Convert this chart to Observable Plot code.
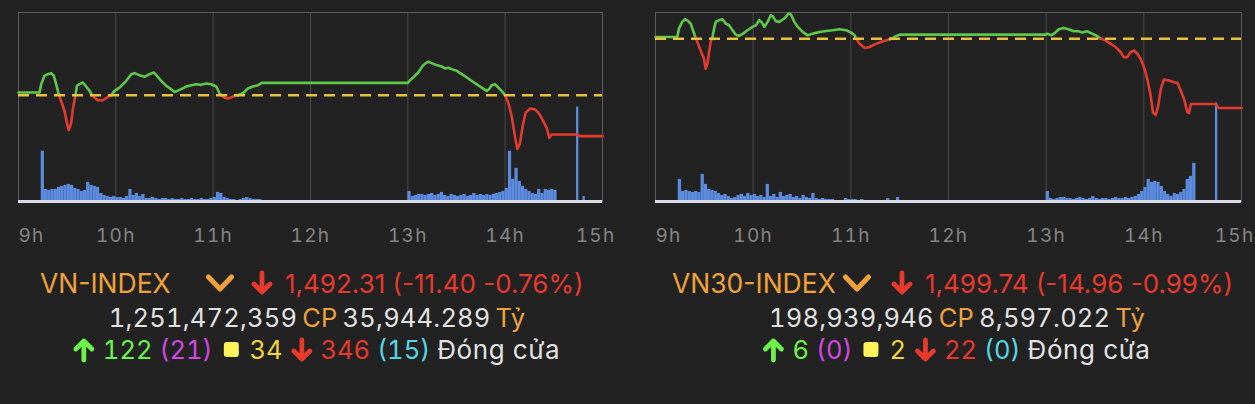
<!DOCTYPE html>
<html>
<head>
<meta charset="utf-8">
<script src="https://cdn.jsdelivr.net/npm/d3@7"></script>
<script src="https://cdn.jsdelivr.net/npm/@observablehq/plot@0.6"></script>
<style>
  html, body { margin: 0; padding: 0; background: #222222; }
  #root { position: relative; width: 1255px; height: 404px; background: #222222; overflow: hidden;
          font-family: "Inter", "Liberation Sans", sans-serif; }
  .panel { position: absolute; top: 0; height: 260px; }
  .layer { position: absolute; left: 0; top: 0; }
  .line { position: absolute; white-space: nowrap; display: flex; align-items: center; }
  .tnum { font-variant-numeric: tabular-nums; }
  .center { transform: translateX(-50%); }
  .sq { display: inline-block; width: 15px; height: 15px; border-radius: 3px; background: #fbf35a; }
</style>
</head>
<body>
<div id="root"></div>
<script>
// ---------------- data ----------------
const hourTicks = [0, 60, 120, 180, 240, 300, 360];          // minutes after 9:00
const hourLabels = ["9h", "10h", "11h", "12h", "13h", "14h", "15h"];

// VN-INDEX intraday
const vnName = "VN-INDEX";
const vnRef = 1503.71;
const vnClose = "1,492.31 (-11.40 -0.76%)";
const vnVolumeText = "1,251,472,359";
const vnValueText = "35,944.289";
const vnBreadth = {up: "122", ceil: "(21)", flat: "34", down: "346", floor: "(15)"};
const vnTime = [0, 13, 14, 16, 18.1, 20.1, 21.8, 23.2, 24.9, 26.3, 28.4, 29.8, 31, 32.5, 33.5, 35.1, 36, 37.6, 39.7, 41.7,
  43.8, 45.4, 46.9, 48.9, 52, 54.5, 57.1, 59.2, 62.3, 66.4, 69.5, 71.5, 74.6, 77.7, 80.8, 83.4, 84.9, 88, 91.1, 94.1,
  96.2, 99.3, 103.4, 106.5, 109.6, 112.6, 115.7, 118.8, 121.9, 123.9, 125, 127, 129.1, 132.2, 135.2, 138.3, 141.4,
  144.5, 147.6, 150, 240, 241, 243.3, 246.4, 248.9, 251, 252.6, 254.7, 257.7, 260.8, 262.9, 264.9, 267, 270.1, 273.2,
  277.3, 281.4, 285.5, 288.6, 290, 291.7, 293.7, 295.8, 297.8, 299.9, 301.9, 304, 306, 307.5, 309.1, 310.8, 312.6,
  315.3, 318.4, 320.8, 322.9, 325.6, 327.2, 328.6, 344, 346, 360];
const vnPrice = [1504.45, 1504.45, 1506.78, 1509.12, 1509.58, 1509.86, 1509.12, 1506.78, 1503.71, 1502.11, 1499.31,
  1496.04, 1493.99, 1496.04, 1499.78, 1503.71, 1506.32, 1506.78, 1507.25, 1506.13, 1504.91, 1503.71, 1503.05, 1502.30,
  1502.30, 1503.05, 1503.71, 1504.91, 1505.85, 1507.72, 1509.58, 1509.86, 1509.30, 1508.84, 1509.58, 1510.05, 1509.30,
  1507.72, 1506.32, 1505.38, 1504.63, 1505.19, 1506.13, 1506.50, 1506.78, 1506.60, 1506.97, 1506.78, 1506.13, 1504.26,
  1503.71, 1503.05, 1502.77, 1503.33, 1503.71, 1504.26, 1505.57, 1506.13, 1506.50, 1507.15, 1507.15, 1507.72, 1508.65,
  1510.05, 1511.73, 1512.66, 1513.04, 1512.66, 1512.10, 1511.73, 1511.17, 1511.36, 1510.98, 1510.52, 1509.58, 1508.37,
  1507.06, 1505.85, 1504.91, 1505.38, 1506.50, 1506.78, 1505.85, 1504.91, 1503.71, 1501.65, 1497.91, 1492.31, 1488.76,
  1490.26, 1495.11, 1498.85, 1499.97, 1499.78, 1498.66, 1496.98, 1494.64, 1491.84, 1492.78, 1492.78, 1492.31, 1492.31];
// volume per 2-minute bin (million shares)
const vnVolMorning = [50, 12, 11, 12, 12, 14, 15, 16, 17, 16, 13, 12, 10, 11, 19, 16, 15, 14, 8, 6, 5, 4, 5, 4, 4, 3, 5,
  12, 6, 8, 5, 7, 3, 3, 4, 3, 2, 3, 3, 2, 3, 2, 2, 3, 2, 2, 3, 2, 2, 3, 2, 2, 3, 4, 9, 8, 4, 3, 2, 2, 1, 2, 3, 4, 3, 2,
  2, 2, 1];
const vnVolAfternoon = [10, 5, 6, 7, 7, 6, 7, 8, 6, 7, 9, 6, 5, 7, 6, 5, 6, 7, 5, 6, 8, 6, 7, 6, 7, 6, 7, 8, 9, 10, 13,
  50, 22, 33, 20, 15, 12, 10, 8, 7, 12, 8, 12, 11, 12, 11];
const vnVolClose = [94, 5];

// VN30-INDEX intraday
const vn30Name = "VN30-INDEX";
const vn30Ref = 1514.70;
const vn30Close = "1,499.74 (-14.96 -0.99%)";
const vn30VolumeText = "198,939,946";
const vn30ValueText = "8,597.022";
const vn30Breadth = {up: "6", ceil: "(0)", flat: "2", down: "22", floor: "(0)"};
const vn30Time = [0, 13.4, 14.4, 16.4, 18.1, 20.1, 21.6, 23, 24.7, 25.7, 27.7, 29.8, 30.8, 31.9, 32.9, 33.9, 34.9, 36, 37,
  39.1, 41.1, 43.2, 45.2, 47.3, 49.3, 51.4, 53.8, 56.5, 59.6, 61.7, 63.7, 65.4, 66.8, 68.9, 70.9, 72.3, 74, 76, 79.1,
  81.8, 83.2, 85.3, 87.4, 90.4, 93.5, 96.6, 100.7, 104.8, 108.9, 113, 117.2, 120.2, 122.3, 123.3, 125.4, 128.5, 131.5,
  135.6, 139.8, 143.9, 145.9, 148, 150, 240, 240.5, 243.1, 245.6, 247.7, 250.8, 253.8, 256.9, 260, 262.1, 265.1, 268.2,
  271.3, 273.4, 276.4, 279.5, 282.6, 285.7, 287.7, 289.8, 291.9, 293.9, 296, 298, 300.1, 302.1, 304.2, 305.6, 307.3,
  308.9, 310.4, 312.4, 315.5, 318.6, 320.6, 322.7, 324.7, 326.8, 327.8, 328.9, 344, 346, 360];
const vn30Price = [1515.06, 1515.06, 1516.87, 1518.32, 1518.89, 1518.46, 1517.95, 1516.51, 1514.85, 1513.98, 1512.17,
  1510.36, 1508.19, 1509.28, 1511.81, 1513.98, 1514.85, 1516.87, 1518.32, 1518.68, 1518.89, 1517.95, 1517.59, 1516.51,
  1515.57, 1515.28, 1515.78, 1516.51, 1517.23, 1517.59, 1518.68, 1518.17, 1517.23, 1518.32, 1519.76, 1519.40, 1518.46,
  1518.32, 1519.04, 1520.12, 1519.91, 1518.32, 1517.23, 1516.15, 1515.42, 1515.78, 1516.15, 1516.36, 1516.51, 1516.72,
  1516.51, 1516.00, 1515.42, 1514.70, 1513.62, 1512.68, 1512.89, 1513.62, 1514.12, 1514.56, 1514.85, 1515.28, 1515.57,
  1515.57, 1515.78, 1515.42, 1516.00, 1516.72, 1517.01, 1516.72, 1516.29, 1516.29, 1516.00, 1516.29, 1515.78, 1515.28,
  1514.70, 1514.34, 1513.62, 1512.89, 1511.81, 1510.72, 1510.72, 1511.81, 1512.17, 1511.45, 1510.36, 1508.55, 1506.02,
  1502.41, 1498.79, 1498.21, 1500.24, 1503.85, 1505.88, 1505.66, 1505.30, 1505.16, 1503.49, 1501.68, 1498.79, 1498.65,
  1500.60, 1500.60, 1499.74, 1499.74];
const vn30VolMorning = [22, 10, 11, 10, 9, 10, 9, 27, 17, 12, 11, 10, 8, 6, 7, 5, 3, 4, 6, 7, 5, 8, 6, 7, 5, 6, 4, 17, 5,
  7, 4, 9, 5, 6, 7, 4, 5, 3, 6, 4, 3, 8, 3, 2, 3, 2, 2, 2, 1, 0, 0, 3, 2, 2, 2, 1, 2, 1, 0, 0, 0, 0, 0, 0, 3, 0, 0, 4, 0];
const vn30VolAfternoon = [10, 3, 2, 3, 4, 4, 3, 3, 2, 3, 4, 3, 2, 3, 5, 3, 2, 3, 3, 2, 3, 4, 3, 3, 4, 3, 4, 5, 7, 10, 14,
  22, 19, 20, 19, 15, 10, 7, 5, 8, 7, 9, 12, 22, 25, 38];
const vn30VolClose = [98];

// bin start minutes (2-minute bins)
const morningBins = d3.range(14, 151, 2);
const afternoonBins = d3.range(240, 331, 2);
const closeBins = [344, 348];

// ---------------- drawing ----------------
const C = {
  grid: "#4a4a4a", frame: "#5c5c5c", base: "#dcdce6", vol: "#5b8ce0",
  up: "#5ec84a", down: "#e53b2f", ref: "#e8c23e", tick: "#858585",
  orange: "#f0a23a", red: "#e8392d", text: "#e2e2e2", green: "#6cf24a", magenta: "#d447e0",
  yellow: "#f3d53f", cyan: "#55d6e6"
};

function volumeRows(morning, afternoon, close) {
  const rows = [];
  morning.forEach((v, i) => rows.push({t0: morningBins[i], t1: morningBins[i] + 2, v}));
  afternoon.forEach((v, i) => rows.push({t0: afternoonBins[i], t1: afternoonBins[i] + 2, v}));
  close.forEach((v, i) => rows.push({t0: closeBins[i], t1: closeBins[i] + 1.4, v}));
  return rows;
}

function priceRows(times, prices, ref) {
  return times.map((t, i) => {
    const next = i + 1 < prices.length ? prices[i + 1] : prices[i];
    const mid = (prices[i] + next) / 2;
    return {t, p: prices[i], c: mid >= ref ? C.up : C.down};
  });
}

const H = 260, MT = 12, MB = 59, ML = 18, MR = 18;

function drawPanel(left, W, ref, yDomain, pRows, vRows) {
  const wrap = document.createElement("div");
  wrap.className = "panel";
  wrap.style.left = left + "px";
  wrap.style.width = W + "px";
  const label = (d) => hourLabels[hourTicks.indexOf(d)];
  const axisStyle = {tickSize: 0, tickPadding: 27, tickFormat: label, fill: C.tick, fontSize: 19};
  const vol = Plot.plot({
    width: W, height: H, marginTop: MT, marginBottom: MB, marginLeft: ML, marginRight: MR,
    style: {background: "transparent", overflow: "visible", letterSpacing: "1.3px",
            fontFamily: "Inter, 'Liberation Sans', sans-serif"},
    x: {domain: [0, 360], axis: null},
    y: {domain: [0, 188], axis: null},
    marks: [
      Plot.ruleX(hourTicks.slice(1, -1), {stroke: C.grid, strokeWidth: 1}),
      Plot.rectY(vRows, {x1: "t0", x2: "t1", y: "v", fill: C.vol}),
      Plot.frame({stroke: C.frame, strokeWidth: 1}),
      Plot.ruleY([0], {stroke: C.base, strokeWidth: 3}),
      Plot.axisX(hourTicks.slice(0, 1), {...axisStyle, textAnchor: "start"}),
      Plot.axisX(hourTicks.slice(1, -1), {...axisStyle}),
      Plot.axisX(hourTicks.slice(-1), {...axisStyle, textAnchor: "end", dx: 13})
    ]
  });
  vol.classList.add("layer");
  const price = Plot.plot({
    width: W, height: H, marginTop: MT, marginBottom: MB, marginLeft: ML, marginRight: MR,
    style: {background: "transparent", overflow: "visible"},
    x: {domain: [0, 360], axis: null},
    y: {domain: yDomain, axis: null},
    color: {type: "identity"},
    marks: [
      Plot.line(pRows, {x: "t", y: "p", z: null, stroke: "c", strokeWidth: 2.6, strokeLinejoin: "round", strokeLinecap: "round"}),
      Plot.ruleY([ref], {stroke: C.ref, strokeWidth: 2.5, strokeDasharray: "11,7"})
    ]
  });
  price.classList.add("layer");
  wrap.appendChild(vol);
  wrap.appendChild(price);
  return wrap;
}

const root = document.getElementById("root");
root.appendChild(drawPanel(0, 620, vnRef, [1474.10, 1526.76], priceRows(vnTime, vnPrice, vnRef),
  volumeRows(vnVolMorning, vnVolAfternoon, vnVolClose)));
root.appendChild(drawPanel(637, 622, vn30Ref, [1479.56, 1520.34], priceRows(vn30Time, vn30Price, vn30Ref),
  volumeRows(vn30VolMorning, vn30VolAfternoon, vn30VolClose)));

// ---------------- text block ----------------
const svgNS = "http://www.w3.org/2000/svg";
function icon(kind, color, w, h, ml) {
  const s = document.createElementNS(svgNS, "svg");
  s.setAttribute("width", w); s.setAttribute("height", h); s.setAttribute("viewBox", `0 0 ${w} ${h}`);
  s.style.display = "block";
  s.style.flex = "none";
  if (ml) s.style.marginLeft = ml + "px";
  const p = document.createElementNS(svgNS, "path");
  let d;
  if (kind === "down") d = `M${w/2} 3 L${w/2} ${h-4} M4 ${h/2+1} L${w/2} ${h-4} L${w-4} ${h/2+1}`;
  else if (kind === "up") d = `M${w/2} ${h-3} L${w/2} 4 M4 ${h/2-1} L${w/2} 4 L${w-4} ${h/2-1}`;
  else d = `M3.5 4 L${w/2} ${h-4} L${w-3.5} 4`;
  p.setAttribute("d", d);
  p.setAttribute("fill", "none"); p.setAttribute("stroke", color);
  p.setAttribute("stroke-width", kind === "chev" ? 5 : 4.8);
  p.setAttribute("stroke-linecap", "round"); p.setAttribute("stroke-linejoin", "round");
  s.appendChild(p);
  return s;
}
function span(text, color, size, extra) {
  const e = document.createElement("span");
  e.textContent = text; e.style.color = color; e.style.fontSize = size + "px";
  if (extra) Object.assign(e.style, extra);
  return e;
}
function line(x, y, center, children, gap, ls, cls) {
  const d = document.createElement("div");
  d.className = "line" + (center ? " center" : "") + (cls ? " " + cls : "");
  d.style.left = x + "px"; d.style.top = y + "px"; d.style.gap = gap + "px";
  d.style.letterSpacing = ls + "px";
  children.forEach(c => d.appendChild(c));
  root.appendChild(d);
  return d;
}
function textBlock(x0, nameW, arrowGap, cx, name, close, volText, valText, b) {
  const n = span(name, C.orange, 26.5, {width: nameW + "px", display: "inline-block", flex: "none"});
  line(x0, 267, false, [n, icon("chev", C.orange, 30, 20), icon("down", C.red, 24, 26, arrowGap),
    span(close, C.red, 26, {marginLeft: "11px"})], 0, 0);
  line(cx, 302, true, [span(volText, C.text, 25.5), span("CP", C.orange, 25.5), span(valText, C.text, 25.5),
    span("Tỷ", C.orange, 25.5)], 5, 0.2, "tnum");
  const sq = document.createElement("span");
  sq.className = "sq"; sq.style.margin = "0 4px";
  line(cx - 1, 334, true, [icon("up", C.green, 24, 26), span(b.up, C.green, 25.5), span(b.ceil, C.magenta, 25.5),
    sq, span(b.flat, C.yellow, 25.5), icon("down", C.red, 24, 26), span(b.down, C.red, 25.5), span(b.floor, C.cyan, 25.5),
    span("Đóng cửa", C.text, 26, {letterSpacing: "0.6px"})], 7, 0, "tnum");
}
textBlock(40, 165, 15, 317, vnName, vnClose, vnVolumeText, vnValueText, vnBreadth);
textBlock(672, 170, 18, 957, vn30Name, vn30Close, vn30VolumeText, vn30ValueText, vn30Breadth);
</script>
</body>
</html>
